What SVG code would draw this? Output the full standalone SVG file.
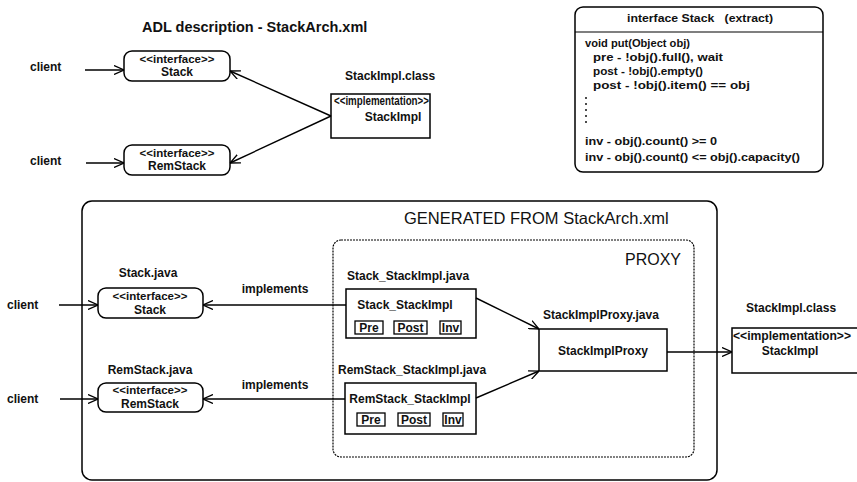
<svg xmlns="http://www.w3.org/2000/svg" width="857" height="482" viewBox="0 0 857 482">
<defs>
<marker id="arr" viewBox="0 0 10 10" refX="10" refY="5" markerWidth="10" markerHeight="10" markerUnits="userSpaceOnUse" orient="auto">
<path d="M0,0.5 L10,5 L0,9.5" fill="none" stroke="#000" stroke-width="1.3"/>
</marker>
</defs>
<style>
text{font-family:"Liberation Sans",Arial,sans-serif;font-weight:bold;font-size:12px;fill:#111}
.c{text-anchor:middle}
.box{fill:#fff;stroke:#000;stroke-width:1.5}
.tag{fill:#fff;stroke:#000;stroke-width:1.3}
.ln{fill:none;stroke:#000;stroke-width:1.4}
.ext{font-size:11.5px}
.t{font-size:12px}
</style>
<rect width="857" height="482" fill="#fff"/>

<text x="142" y="32" style="font-size:14.5px">ADL description - StackArch.xml</text>

<g id="client-top1"><text x="30" y="71">client</text></g>
<g id="client-top2"><text x="30" y="165">client</text></g>

<g id="adl-stack">
<rect class="box" x="124" y="51" width="106" height="30" rx="8"/>
<text class="c" x="177" y="63" style="font-size:11.5px">&lt;&lt;interface&gt;&gt;</text>
<text class="c" x="177" y="76">Stack</text>
</g>
<g id="adl-remstack">
<rect class="box" x="124" y="145" width="106" height="30" rx="8"/>
<text class="c" x="177" y="157" style="font-size:11.5px">&lt;&lt;interface&gt;&gt;</text>
<text class="c" x="177" y="170">RemStack</text>
</g>
<g id="adl-stackimpl">
<text x="345" y="80">StackImpl.class</text>
<rect class="box" x="331" y="94" width="99" height="44"/>
<text x="334" y="105" textLength="95" lengthAdjust="spacingAndGlyphs">&lt;&lt;implementation&gt;&gt;</text>
<text class="c" x="393" y="121">StackImpl</text>
</g>

<g id="interface-extract">
<rect class="box" x="575" y="7" width="248" height="165" rx="8"/>
<line x1="575" y1="32" x2="823" y2="32" stroke="#000" stroke-width="1.2"/>
<text x="627" y="22" style="font-size:10.5px" textLength="146" lengthAdjust="spacingAndGlyphs" xml:space="preserve">interface Stack   (extract)</text>
<text class="ext" x="585" y="47" textLength="105" lengthAdjust="spacingAndGlyphs">void put(Object obj)</text>
<text class="ext" x="593" y="61" textLength="130" lengthAdjust="spacingAndGlyphs">pre - !obj().full(), wait</text>
<text class="ext" x="593" y="75" textLength="110" lengthAdjust="spacingAndGlyphs">post - !obj().empty()</text>
<text class="ext" x="593" y="89" textLength="157" lengthAdjust="spacingAndGlyphs">post - !obj().item() == obj</text>
<g fill="#111"><circle cx="586" cy="98" r="1"/><circle cx="586" cy="104" r="1"/><circle cx="586" cy="110" r="1"/><circle cx="586" cy="116" r="1"/><circle cx="586" cy="122" r="1"/></g>
<text class="ext" x="585" y="145" textLength="132" lengthAdjust="spacingAndGlyphs">inv - obj().count() &gt;= 0</text>
<text class="ext" x="585" y="161" textLength="215" lengthAdjust="spacingAndGlyphs">inv - obj().count() &lt;= obj().capacity()</text>
</g>

<g id="generated">
<rect fill="none" stroke="#000" stroke-width="1.5" x="82" y="201" width="635" height="279" rx="10"/>
<text x="404" y="224" style="font-size:16.5px;font-weight:normal">GENERATED FROM StackArch.xml</text>
</g>
<g id="proxy">
<rect fill="none" stroke="#000" stroke-width="1.2" stroke-dasharray="2,1" x="333" y="240" width="361" height="217" rx="8"/>
<text x="681" y="265" style="font-size:16px;font-weight:normal;text-anchor:end">PROXY</text>
</g>

<g id="client-b1"><text x="7" y="309">client</text></g>
<g id="client-b2"><text x="7" y="403">client</text></g>

<g id="stack-java">
<text class="c" x="148" y="277">Stack.java</text>
<rect class="box" x="98" y="288" width="105" height="30" rx="8"/>
<text class="c" x="150" y="300" style="font-size:11.5px">&lt;&lt;interface&gt;&gt;</text>
<text class="c" x="150" y="314">Stack</text>
</g>
<g id="remstack-java">
<text class="c" x="150" y="374">RemStack.java</text>
<rect class="box" x="98" y="383" width="105" height="29" rx="8"/>
<text class="c" x="150" y="394" style="font-size:11.5px">&lt;&lt;interface&gt;&gt;</text>
<text class="c" x="150" y="408">RemStack</text>
</g>

<g id="stack-stackimpl">
<text x="347" y="280">Stack_StackImpl.java</text>
<rect class="box" x="346" y="289" width="130" height="49"/>
<text class="c" x="405" y="309">Stack_StackImpl</text>
<rect class="tag" x="355" y="321" width="28" height="13"/>
<text class="c t" x="369" y="332">Pre</text>
<rect class="tag" x="394" y="321" width="33" height="13"/>
<text class="c t" x="410.5" y="332">Post</text>
<rect class="tag" x="440" y="321" width="21" height="13"/>
<text class="c t" x="450.5" y="332">Inv</text>
</g>
<g id="remstack-stackimpl">
<text x="338" y="374">RemStack_StackImpl.java</text>
<rect class="box" x="345" y="383" width="131" height="51"/>
<text class="c" x="410" y="403">RemStack_StackImpl</text>
<rect class="tag" x="357" y="413" width="28" height="13"/>
<text class="c t" x="371" y="424">Pre</text>
<rect class="tag" x="398" y="413" width="32" height="13"/>
<text class="c t" x="414" y="424">Post</text>
<rect class="tag" x="443" y="413" width="20" height="13"/>
<text class="c t" x="453" y="424">Inv</text>
</g>
<g id="stackimplproxy">
<text x="543" y="319">StackImplProxy.java</text>
<rect class="box" x="539" y="329" width="128" height="42"/>
<text class="c" x="603" y="355">StackImplProxy</text>
</g>
<g id="stackimpl-class">
<text x="746" y="312">StackImpl.class</text>
<rect class="box" x="732" y="328" width="130" height="45"/>
<text x="733" y="340" textLength="118" lengthAdjust="spacingAndGlyphs">&lt;&lt;implementation&gt;&gt;</text>
<text class="c" x="790" y="355">StackImpl</text>
</g>

<g id="labels">
<text class="c" x="275" y="293">implements</text>
<text class="c" x="275" y="389">implements</text>
</g>

<g id="connectors">
<line class="ln" x1="85" y1="70" x2="124" y2="70" marker-end="url(#arr)"/>
<line class="ln" x1="86" y1="163" x2="124" y2="163" marker-end="url(#arr)"/>
<line class="ln" x1="331" y1="116" x2="230" y2="71" marker-end="url(#arr)"/>
<line class="ln" x1="331" y1="116" x2="230" y2="163" marker-end="url(#arr)"/>
<line class="ln" x1="59" y1="305" x2="98" y2="305" marker-end="url(#arr)"/>
<line class="ln" x1="60" y1="399" x2="98" y2="399" marker-end="url(#arr)"/>
<line class="ln" x1="346" y1="305" x2="203" y2="305" marker-end="url(#arr)"/>
<line class="ln" x1="345" y1="399" x2="203" y2="399" marker-end="url(#arr)"/>
<line class="ln" x1="476" y1="298" x2="539" y2="329" marker-end="url(#arr)"/>
<line class="ln" x1="476" y1="398" x2="539" y2="371" marker-end="url(#arr)"/>
<line class="ln" x1="667" y1="352" x2="732" y2="352" marker-end="url(#arr)"/>
</g>
</svg>
